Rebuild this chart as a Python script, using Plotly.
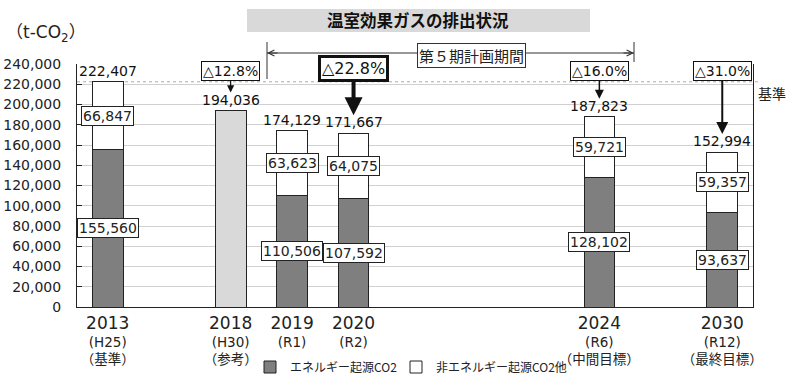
import plotly.graph_objects as go

# ---------------- data ----------------
years = ["2013", "2018", "2019", "2020", "2024", "2030"]
era_labels = ["(H25)", "(H30)", "(R1)", "(R2)", "(R6)", "(R12)"]
role_labels = ["（基準）", "（参考）", "", "", "（中間目標）", "（最終目標）"]
energy_co2 = [155560, None, 110506, 107592, 128102, 93637]
non_energy_co2 = [66847, None, 63623, 64075, 59721, 59357]
reference_total = [None, 194036, None, None, None, None]
totals = [222407, 194036, 174129, 171667, 187823, 152994]
reductions = [None, "△12.8%", None, "△22.8%", "△16.0%", "△31.0%"]
y_ticks = list(range(0, 240001, 20000))

# slot layout of the horizontal axis (blank slots are gaps between shown years)
slot_layout = ["2013", "", "2018", "2019", "2020", "", "", "", "2024", "", "2030"]
xpos = [slot_layout.index(y) for y in years]

FONT = "DejaVu Sans, Noto Sans CJK JP, sans-serif"
JFONT = "Noto Sans CJK JP, DejaVu Sans, sans-serif"
DARK = "#7f7f7f"
LIGHT = "#d9d9d9"

# plot-area pixel geometry (for decorations in paper coords)
L, R, T, B = 77, 753, 64, 307
W, H = R - L, B - T
def px(x):
    return (x - L) / W
def py(y):
    return (B - y) / H

fig = go.Figure()
fig.add_trace(go.Bar(
    x=xpos, y=energy_co2, name="エネルギー起源CO2", legend="legend",
    marker=dict(color=DARK, line=dict(color="#222", width=1)), width=0.5,
))
fig.add_trace(go.Bar(
    x=xpos, y=non_energy_co2, name="非エネルギー起源CO2他", legend="legend2",
    marker=dict(color="white", line=dict(color="#222", width=1)), width=0.5,
))
fig.add_trace(go.Bar(
    x=xpos, y=reference_total, name="2018", showlegend=False,
    marker=dict(color=LIGHT, line=dict(color="#222", width=1)), width=0.5,
))

annotations = []
box_font = dict(family=FONT, size=14, color="#222")
# segment value labels (boxed)
for x, e, n in zip(xpos, energy_co2, non_energy_co2):
    if e is not None:
        annotations.append(dict(x=x, y=e / 2, text=f"{e:,}", showarrow=False,
                                bgcolor="white", bordercolor="#222", borderwidth=1, borderpad=1,
                                font=box_font))
    if n is not None:
        annotations.append(dict(x=x, y=e + n / 2, text=f"{n:,}", showarrow=False,
                                bgcolor="white", bordercolor="#222", borderwidth=1, borderpad=1,
                                font=box_font))
# totals above bars
for x, t in zip(xpos, totals):
    annotations.append(dict(x=x, y=t, text=f"{t:,}", showarrow=False, yanchor="middle",
                            yshift=11, font=dict(family=FONT, size=14, color="#111")))

# reduction boxes with arrows
BOX_Y = 233000
arrow_w = {"△12.8%": 1.2, "△22.8%": 4, "△16.0%": 1.5, "△31.0%": 2}
for x, t, r in zip(xpos, totals, reductions):
    if r is None:
        continue
    big = r == "△22.8%"
    annotations.append(dict(
        x=x, y=t, text=r, showarrow=True, axref="pixel", ax=0, ayref="y",
        ay=BOX_Y + (3000 if big else 0),
        arrowhead=2, arrowsize=0.9 if big else 1.2, arrowwidth=arrow_w[r], arrowcolor="#111",
        standoff=18, bgcolor="white", bordercolor="#111", borderwidth=3 if big else 1,
        borderpad=1, font=dict(family=FONT, size=16 if big else 14, color="#111"),
    ))

# title, unit, period bracket, base label
annotations += [
    dict(xref="paper", yref="paper", x=px(418), y=py(20), xanchor="center", yanchor="middle",
         text="<b>温室効果ガスの排出状況</b>",
         showarrow=False, font=dict(family=JFONT, size=16.5, color="#111")),
    dict(xref="paper", yref="paper", x=px(4), y=py(33), xanchor="left", yanchor="middle",
         text="（t-CO<sub>2</sub>）", showarrow=False, font=dict(family=FONT, size=17, color="#222")),
    dict(xref="paper", yref="paper", x=px(634), y=py(53), ax=-12, ay=0, text="",
         showarrow=True, arrowhead=5, arrowsize=1.2, arrowwidth=1, arrowcolor="#333"),
    dict(xref="paper", yref="paper", x=px(267), y=py(53), ax=12, ay=0, text="",
         showarrow=True, arrowhead=5, arrowsize=1.2, arrowwidth=1, arrowcolor="#333"),
    dict(xref="paper", yref="paper", x=px(471), y=py(55), xanchor="center", yanchor="middle",
         text="第５期計画期間", showarrow=False,
         bgcolor="white", bordercolor="#333", borderwidth=1, borderpad=1,
         font=dict(family=JFONT, size=15, color="#222")),
    dict(xref="paper", x=1, xanchor="left", xshift=3, y=totals[0], yshift=-11, text="基準",
         showarrow=False, font=dict(family=JFONT, size=14, color="#222")),
]

shapes = [
    dict(type="rect", xref="paper", yref="paper", x0=px(247), x1=px(590), y0=py(32), y1=py(9),
         fillcolor=LIGHT, line=dict(width=0)),
    dict(type="line", xref="paper", yref="paper", x0=px(267), x1=px(634), y0=py(53), y1=py(53),
         line=dict(color="#333", width=1)),
    dict(type="line", xref="paper", yref="paper", x0=px(267), x1=px(267), y0=py(42), y1=py(79),
         line=dict(color="#333", width=1)),
    dict(type="line", xref="paper", yref="paper", x0=px(634), x1=px(634), y0=py(42), y1=py(62),
         line=dict(color="#333", width=1)),
    dict(type="line", xref="paper", yref="y", x0=0, x1=1.01, y0=totals[0], y1=totals[0],
         line=dict(color="#aaaaaa", width=1, dash="dot"), layer="below"),
]

tick_text = []
for yr, a, b in zip(years, era_labels, role_labels):
    t = f"<span style='font-size:17px'>{yr}</span><br>{a}"
    if b:
        t += f"<br>{b}"
    tick_text.append(t)

legend_common = dict(orientation="h", xanchor="left", yref="container",
                     y=1 - 367 / 381, yanchor="middle",
                     font=dict(family=JFONT, size=12, color="#222"), itemwidth=30,
                     bgcolor="rgba(0,0,0,0)")

fig.update_layout(
    width=800, height=381,
    margin=dict(l=L, r=800 - R, t=T, b=381 - B),
    barmode="stack",
    plot_bgcolor="white", paper_bgcolor="white",
    font=dict(family=FONT, color="#222"),
    annotations=annotations, shapes=shapes,
    xaxis=dict(range=[-0.5, len(slot_layout) - 0.5], tickmode="array", tickvals=xpos,
               ticktext=tick_text, automargin=False, ticklabelstandoff=5,
               showline=True, linecolor="#222", linewidth=1, ticks="", showgrid=False,
               zeroline=False, tickfont=dict(family=FONT, size=13.5, color="#222")),
    yaxis=dict(range=[0, 240000], tickmode="array", tickvals=y_ticks,
               ticktext=[f"{v:,}" for v in y_ticks], automargin=False,
               showline=True, mirror=True, linecolor="#222", linewidth=1,
               ticks="inside", ticklen=5, tickcolor="#222",
               showgrid=True, gridcolor="#d0d0d0", gridwidth=1, zeroline=False,
               ticklabelstandoff=12,
               tickfont=dict(family=FONT, size=14, color="#222")),
    legend=dict(x=px(250), **legend_common),
    legend2=dict(x=px(396), **legend_common),
    showlegend=True,
)

fig.write_html("out.html", config={"displayModeBar": False},
               post_script="document.body.style.margin='0';")
